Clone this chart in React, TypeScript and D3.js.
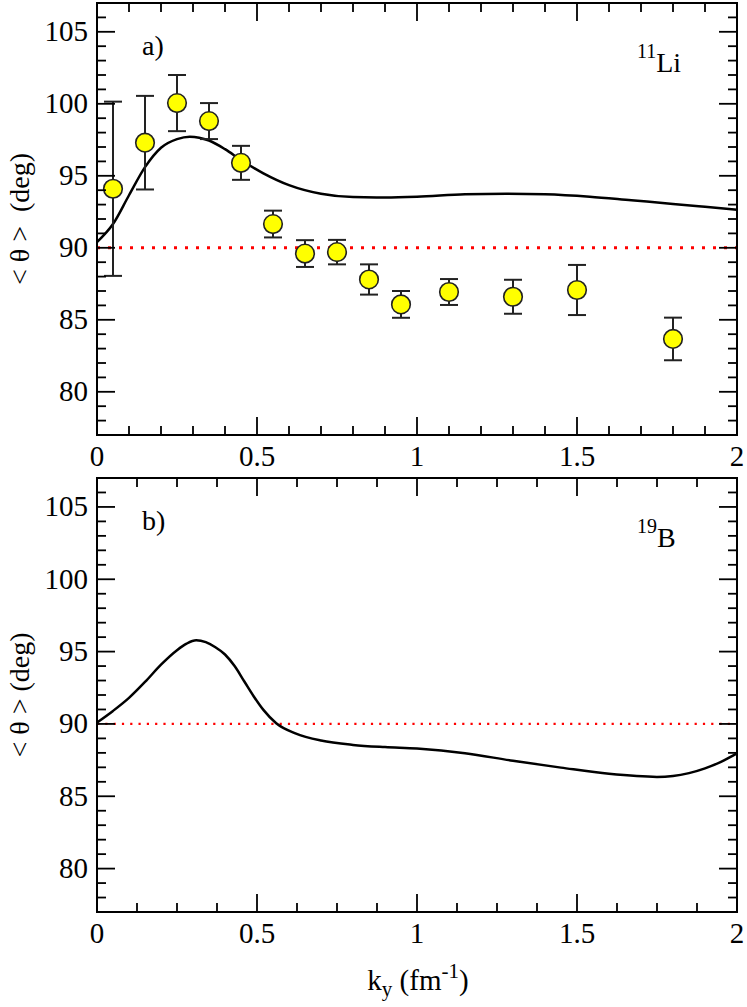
import React from "react";
import * as d3 from "d3";

// ---- Data ----
const expK = [0.05, 0.15, 0.25, 0.35, 0.45, 0.55, 0.65, 0.75, 0.85, 0.95, 1.1, 1.3, 1.5, 1.8];
const expTheta = [94.1, 97.3, 100.05, 98.8, 95.9, 91.65, 89.6, 89.7, 87.8, 86.07, 86.93, 86.6, 87.07, 83.67];
const expErr = [6.05, 3.25, 1.95, 1.25, 1.18, 0.93, 0.93, 0.85, 1.05, 0.93, 0.9, 1.18, 1.74, 1.48];

const liK = [0, 0.05, 0.1, 0.15, 0.2, 0.25, 0.29, 0.35, 0.4, 0.45, 0.52, 0.6, 0.7, 0.8, 0.9, 1.0, 1.15, 1.28, 1.4, 1.54, 1.67, 1.8, 1.9, 2.0];
const liTheta = [90.4, 91.65, 93.65, 95.6, 96.95, 97.55, 97.72, 97.45, 96.85, 96.1, 95.17, 94.35, 93.75, 93.52, 93.5, 93.55, 93.72, 93.76, 93.72, 93.55, 93.3, 93.05, 92.85, 92.65];

const bK = [0, 0.05, 0.1, 0.15, 0.2, 0.25, 0.28, 0.31, 0.34, 0.37, 0.4, 0.43, 0.46, 0.49, 0.52, 0.56, 0.62, 0.7, 0.8, 0.9, 1.0, 1.15, 1.3, 1.45, 1.6, 1.75, 1.8, 1.85, 1.9, 1.95, 2.0];
const bTheta = [90.1, 90.9, 91.8, 92.9, 94.1, 95.1, 95.55, 95.78, 95.65, 95.3, 94.8, 94.0, 92.95, 91.9, 90.97, 90.05, 89.35, 88.85, 88.55, 88.4, 88.3, 87.98, 87.45, 86.98, 86.55, 86.34, 86.4, 86.6, 86.93, 87.38, 87.96];

const xMajorTicks = [0, 0.5, 1, 1.5, 2];
const xTickLabels = ["0", "0.5", "1", "1.5", "2"];
const yMajorTicks = [80, 85, 90, 95, 100, 105];
const yTickLabels = ["80", "85", "90", "95", "100", "105"];
const refLine = 90;

// ---- Layout ----
const W = 747;
const H = 1007;
const left = 97;
const right = 737;
const FONT = "'Liberation Serif', 'Times New Roman', serif";

type PanelProps = {
  top: number;
  bottom: number;
  minorStep: number;
  curveK: number[];
  curveT: number[];
  withData: boolean;
  panelLabel: string;
  isoMass: string;
  isoName: string;
  dotW: number;
  dotDash: string;
  labelGap: boolean;
};

function Panel(p: PanelProps) {
  const x = d3.scaleLinear().domain([0, 2]).range([left, right]);
  const y = d3.scaleLinear().domain([77, 107]).range([p.bottom, p.top]);
  const major = 18;
  const minor = 9;

  const nMinorX = Math.round(2 / p.minorStep);
  const xMinor = d3.range(0, nMinorX + 1).map((i) => i * p.minorStep);
  const yMinor = d3.range(78, 107);

  const line = d3
    .line<number>()
    .x((_, i) => x(p.curveK[i]))
    .y((d) => y(d))
    .curve(d3.curveMonotoneX);

  const midY = (p.top + p.bottom) / 2;

  return (
    <g>
      <line
        x1={x(0)}
        x2={x(2)}
        y1={y(refLine)}
        y2={y(refLine)}
        stroke="#ff0000"
        strokeWidth={p.dotW}
        strokeDasharray={p.dotDash}
      />
      <path d={line(p.curveT) || ""} fill="none" stroke="#000" strokeWidth={2.5} />
      {p.withData &&
        expK.map((k, i) => {
          const cx = x(k);
          const y1 = y(expTheta[i] + expErr[i]);
          const y2 = y(expTheta[i] - expErr[i]);
          return (
            <g key={i}>
              <line x1={cx} x2={cx} y1={y1} y2={y2} stroke="#222" strokeWidth={2} />
              <line x1={cx - 9} x2={cx + 9} y1={y1} y2={y1} stroke="#222" strokeWidth={2} />
              <line x1={cx - 9} x2={cx + 9} y1={y2} y2={y2} stroke="#222" strokeWidth={2} />
              <circle cx={cx} cy={y(expTheta[i])} r={9.3} fill="#ffff00" stroke="#222" strokeWidth={1.6} />
            </g>
          );
        })}
      <rect
        x={left}
        y={p.top}
        width={right - left}
        height={p.bottom - p.top}
        fill="none"
        stroke="#000"
        strokeWidth={2}
      />
      {xMinor.map((v, i) => {
        const isMajor = xMajorTicks.some((m) => Math.abs(m - v) < 1e-6);
        const len = isMajor ? major : minor;
        return (
          <g key={"xt" + i}>
            <line x1={x(v)} x2={x(v)} y1={p.bottom} y2={p.bottom - len} stroke="#000" strokeWidth={1.8} />
            <line x1={x(v)} x2={x(v)} y1={p.top} y2={p.top + len} stroke="#000" strokeWidth={1.8} />
          </g>
        );
      })}
      {yMinor.map((v, i) => {
        const isMajor = v % 5 === 0;
        const len = isMajor ? major : minor;
        return (
          <g key={"yt" + i}>
            <line x1={left} x2={left + len} y1={y(v)} y2={y(v)} stroke="#000" strokeWidth={1.8} />
            <line x1={right} x2={right - len} y1={y(v)} y2={y(v)} stroke="#000" strokeWidth={1.8} />
          </g>
        );
      })}
      {xMajorTicks.map((v, i) => (
        <text
          key={"xl" + i}
          x={x(v)}
          y={p.bottom + 31}
          textAnchor="middle"
          fontFamily={FONT}
          fontSize={29}
          fill="#000"
        >
          {xTickLabels[i]}
        </text>
      ))}
      {yMajorTicks.map((v, i) => (
        <text
          key={"yl" + i}
          x={88}
          y={y(v) + 9.5}
          textAnchor="end"
          fontFamily={FONT}
          fontSize={29}
          fill="#000"
        >
          {yTickLabels[i]}
        </text>
      ))}
      <text
        transform={`translate(29,${midY}) rotate(-90)`}
        textAnchor="middle"
        fontFamily={FONT}
        fontSize={28}
        fill="#000"
        xmlSpace="preserve"
      >
        {p.labelGap ? "< θ >  (deg)" : "< θ > (deg)"}
      </text>
      <text x={142} y={p.top + 52} fontFamily={FONT} fontSize={28} fill="#000">
        {p.panelLabel}
      </text>
      <text x={637} y={p.top + 69} fontFamily={FONT} fontSize={28} fill="#000">
        <tspan fontSize={20} dy={-14}>{p.isoMass}</tspan>
        <tspan dy={14}>{p.isoName}</tspan>
      </text>
    </g>
  );
}

export default function App() {
  return (
    <svg
      width={W}
      height={H}
      style={{ position: "absolute", left: 0, top: 0, background: "#fff" }}
    >
      <rect x={0} y={0} width={W} height={H} fill="#fff" />
      <Panel
        top={3}
        bottom={435}
        minorStep={0.1}
        curveK={liK}
        curveT={liTheta}
        withData={true}
        panelLabel="a)"
        isoMass="11"
        isoName="Li"
        dotW={3}
        dotDash="3 8"
        labelGap={true}
      />
      <Panel
        top={478}
        bottom={912}
        minorStep={0.125}
        curveK={bK}
        curveT={bTheta}
        withData={false}
        panelLabel="b)"
        isoMass="19"
        isoName="B"
        dotW={2.2}
        dotDash="2.2 6.1"
        labelGap={false}
      />
      <text x={418} y={990} textAnchor="middle" fontFamily={FONT} fontSize={29} fill="#000">
        k
        <tspan fontSize={21} dy={6}>y</tspan>
        <tspan dy={-6}> (fm</tspan>
        <tspan fontSize={21} dy={-12}>-1</tspan>
        <tspan dy={12}>)</tspan>
      </text>
    </svg>
  );
}
